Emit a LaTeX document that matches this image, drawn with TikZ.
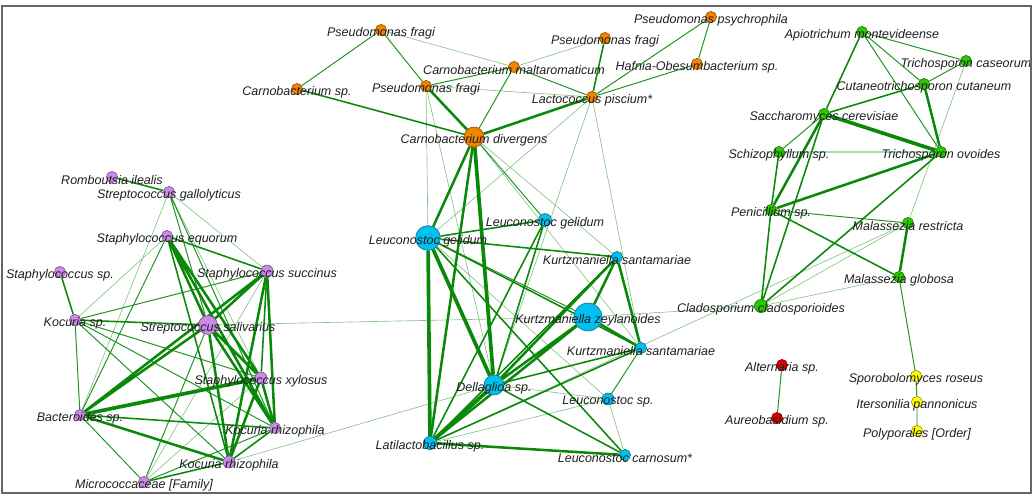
\documentclass[tikz,border=0pt]{standalone}
\usepackage{fontspec}
\setmainfont{Liberation Sans}
\usetikzlibrary{backgrounds}

\definecolor{orn}{RGB}{240,134,0}
\definecolor{blu}{RGB}{0,192,240}
\definecolor{pur}{RGB}{204,136,234}
\definecolor{grn}{RGB}{44,200,0}
\definecolor{rdd}{RGB}{222,0,0}
\definecolor{yel}{RGB}{255,255,0}
\definecolor{edg}{RGB}{10,136,10}

\begin{document}
\begin{tikzpicture}[x=0.025cm,y=-0.025cm,
    tx/.style={circle,draw=#1!55!black,fill=#1,line width=0.4pt,inner sep=0pt,minimum size=0.28cm},
    lb/.style={font=\fontsize{8.9}{10}\selectfont\itshape,text=black!88,yshift=-0.07cm,inner sep=0pt},
    w0/.style={draw=edg,line width=0.45pt,opacity=0.5},
    w1/.style={draw=edg,line width=0.7pt,opacity=0.9},
    w2/.style={draw=edg,line width=1.1pt},
    w3/.style={draw=edg,line width=1.8pt},
    w4/.style={draw=edg,line width=2.6pt}]

    \useasboundingbox (0,0) rectangle (1035,495);

    % bacteria, orange group
    \node[tx=orn,label={[lb]center:Pseudomonas fragi}] (pf1) at (381,30) {};
    \node[tx=orn,label={[lb]center:Pseudomonas fragi}] (pf2) at (605,38) {};
    \node[tx=orn,label={[lb]center:Pseudomonas psychrophila}] (pps) at (711,17) {};
    \node[tx=orn,label={[lb]center:Carnobacterium maltaromaticum}] (cma) at (514,67) {};
    \node[tx=orn,label={[lb]center:Hafnia-Obesumbacterium sp.}] (hob) at (697,64) {};
    \node[tx=orn,label={[lb]center:Carnobacterium sp.}] (csp) at (297,89) {};
    \node[tx=orn,label={[lb]center:Pseudomonas fragi}] (pf3) at (426,86) {};
    \node[tx=orn,label={[lb]center:Lactococcus piscium*}] (lpi) at (592,97) {};
    \node[tx=orn,minimum size=0.5cm,label={[lb]center:Carnobacterium divergens}] (cdi) at (474,137) {};

    % blue group
    \node[tx=blu,minimum size=0.62cm,label={[lb]center:Leuconostoc gelidum}] (lgb) at (428,238) {};
    \node[tx=blu,minimum size=0.32cm,label={[lb]center:Leuconostoc gelidum}] (lgs) at (545,220) {};
    \node[tx=blu,label={[lb]center:Kurtzmaniella santamariae}] (ks1) at (617,257) {};
    \node[tx=blu,minimum size=0.7cm,label={[lb]center:Kurtzmaniella zeylanoides}] (kz) at (588,317) {};
    \node[tx=blu,label={[lb]center:Kurtzmaniella santamariae}] (ks2) at (641,348) {};
    \node[tx=blu,minimum size=0.5cm,label={[lb]center:Dellaglioa sp.}] (dell) at (494,385) {};
    \node[tx=blu,minimum size=0.3cm,label={[lb]center:Leuconostoc sp.}] (lsp) at (608,399) {};
    \node[tx=blu,minimum size=0.33cm,label={[lb]center:Latilactobacillus sp.}] (lat) at (430,443) {};
    \node[tx=blu,label={[lb]center:Leuconostoc carnosum*}] (lca) at (625,455) {};

    % purple group
    \node[tx=pur,label={[lb]center:Romboutsia ilealis}] (ril) at (112,177) {};
    \node[tx=pur,label={[lb]center:Streptococcus gallolyticus}] (sga) at (169,192) {};
    \node[tx=pur,label={[lb]center:Staphylococcus equorum}] (seq) at (167,236) {};
    \node[tx=pur,label={[lb]center:Staphylococcus sp.}] (stsp) at (60,272) {};
    \node[tx=pur,minimum size=0.3cm,label={[lb]center:Staphylococcus succinus}] (ssu) at (267,271) {};
    \node[tx=pur,label={[lb]center:Kocuria sp.}] (ksp) at (75,320) {};
    \node[tx=pur,minimum size=0.47cm,label={[lb]center:Streptococcus salivarius}] (ssa) at (208,325) {};
    \node[tx=pur,minimum size=0.3cm,label={[lb]center:Staphylococcus xylosus}] (sxy) at (261,378) {};
    \node[tx=pur,label={[lb]center:Bacteroides sp.}] (bsp) at (80,415) {};
    \node[tx=pur,label={[lb]center:Kocuria rhizophila}] (kru) at (275,428) {};
    \node[tx=pur,minimum size=0.3cm,label={[lb]center:Kocuria rhizophila}] (krl) at (229,462) {};
    \node[tx=pur,label={[lb]center:{Micrococcaceae [Family]}}] (mfa) at (144,482) {};

    % fungi
    \node[tx=grn,label={[lb]center:Apiotrichum montevideense}] (amo) at (862,32) {};
    \node[tx=grn,label={[lb]center:Trichosporon caseorum}] (tca) at (966,61) {};
    \node[tx=grn,label={[lb]center:Cutaneotrichosporon cutaneum}] (ccu) at (924,84) {};
    \node[tx=grn,label={[lb]center:Saccharomyces cerevisiae}] (sce) at (824,114) {};
    \node[tx=grn,label={[lb]center:Schizophyllum sp.}] (schz) at (779,152) {};
    \node[tx=grn,label={[lb]center:Trichosporon ovoides}] (tov) at (941,152) {};
    \node[tx=grn,label={[lb]center:Penicillium sp.}] (pen) at (771,210) {};
    \node[tx=grn,label={[lb]center:Malassezia restricta}] (mre) at (908,223) {};
    \node[tx=grn,label={[lb]center:Malassezia globosa}] (mgl) at (899,277) {};
    \node[tx=grn,minimum size=0.33cm,label={[lb]center:Cladosporium cladosporioides}] (ccl) at (761,306) {};

    \node[tx=yel,label={[lb]center:Sporobolomyces roseus}] (sro) at (916,376) {};
    \node[tx=yel,label={[lb]center:Itersonilia pannonicus}] (ipa) at (917,402) {};
    \node[tx=yel,label={[lb]center:{Polyporales [Order]}}] (pol) at (917,431) {};
    \node[tx=rdd,label={[lb]center:Alternaria sp.}] (alt) at (782,365) {};
    \node[tx=rdd,label={[lb]center:Aureobasidium sp.}] (aur) at (777,418) {};

    \begin{scope}[on background layer]
    % orange
    \draw[w0] (pf1) -- (cma) (pf3) -- (lpi) (cma) -- (pf2) (pf3) -- (lgb) (pf3) -- (dell)
        (lpi) -- (lgb) (lpi) -- (dell) (lpi) -- (ks2) (cdi) -- (ks1) (cdi) -- (ks2);
    \draw[w1] (pf1) -- (csp) (pf1) -- (pf3) (pf3) -- (cma) (cma) -- (lpi) (cma) -- (cdi)
        (pps) -- (lpi) (pps) -- (hob) (hob) -- (lpi) (cdi) -- (lgs);
    \draw[w2] (csp) -- (cdi) (pf2) -- (lpi);
    \draw[w3] (pf3) -- (cdi) (lpi) -- (cdi) (cdi) -- (lgb) (cdi) -- (lat);
    \draw[w4] (cdi) -- (dell);
    % blue
    \draw[w0] (lgb) -- (lsp) (dell) -- (lsp) (lat) -- (lsp) (lat) -- (mre) (lsp) -- (lca)
        (kz) -- (ccl) (kz) -- (ssa) (krl) -- (dell);
    \draw[w1] (lgb) -- (kz) (ks2) -- (lsp);
    \draw[w2] (lgb) -- (lgs) (lgb) -- (ks1) (lgb) -- (ks2) (lgb) -- (lca) (lgs) -- (dell)
        (lgs) -- (lat) (ks1) -- (lat) (ks2) -- (dell) (ks2) -- (lat) (dell) -- (lca);
    \draw[w3] (ks1) -- (kz) (ks1) -- (ks2) (ks1) -- (dell) (kz) -- (ks2) (kz) -- (dell)
        (kz) -- (lat) (lat) -- (lca);
    \draw[w4] (lgb) -- (lat) (lgb) -- (dell) (dell) -- (lat);
    % purple
    \draw[w0] (sga) -- (ssu) (sga) -- (sxy) (sga) -- (bsp) (seq) -- (ksp) (ssu) -- (mfa)
        (sxy) -- (mfa);
    \draw[w1] (sga) -- (ssa) (sga) -- (kru) (seq) -- (bsp) (ssu) -- (ksp) (ksp) -- (sxy)
        (ksp) -- (kru) (ksp) -- (krl) (ksp) -- (bsp) (ssa) -- (mfa) (bsp) -- (mfa) (kru) -- (mfa);
    \draw[w2] (ril) -- (sga) (seq) -- (ssu) (seq) -- (krl) (stsp) -- (ksp) (ssu) -- (sxy)
        (ksp) -- (ssa) (bsp) -- (kru) (kru) -- (krl) (krl) -- (mfa);
    \draw[w3] (seq) -- (ssa) (seq) -- (sxy) (seq) -- (kru) (ssu) -- (ssa) (ssu) -- (kru)
        (ssu) -- (krl) (ssu) -- (bsp) (ssa) -- (bsp) (ssa) -- (sxy) (ssa) -- (kru)
        (ssa) -- (krl) (sxy) -- (kru) (sxy) -- (krl) (bsp) -- (krl);
    \draw[w4] (sxy) -- (bsp);
    % fungi
    \draw[w0] (tca) -- (mre) (mre) -- (ccl) (mgl) -- (ccl);
    \draw[w1] (amo) -- (tca) (amo) -- (ccu) (amo) -- (tov) (tca) -- (ccu) (sce) -- (schz)
        (schz) -- (tov) (pen) -- (mre) (mgl) -- (sro) (sro) -- (ipa) (ipa) -- (pol) (alt) -- (aur);
    \draw[w2] (amo) -- (sce) (ccu) -- (sce) (sce) -- (ccl) (schz) -- (pen) (tov) -- (ccl)
        (pen) -- (mgl) (pen) -- (ccl);
    \draw[w3] (ccu) -- (tov) (sce) -- (pen) (tov) -- (pen) (mre) -- (mgl);
    \draw[w4] (sce) -- (tov);
    \end{scope}

    \draw[black!60,line width=0.9pt] (2,6) rectangle (1031,493);

\end{tikzpicture}
\end{document}
